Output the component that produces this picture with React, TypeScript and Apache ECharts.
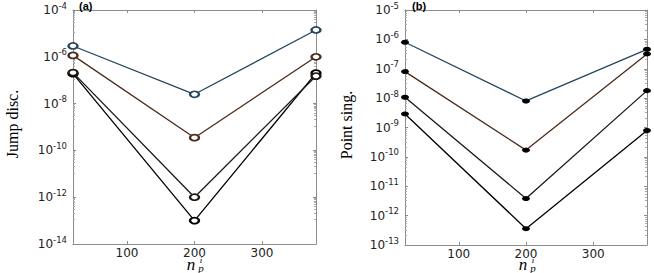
import React, { useEffect, useRef } from "react";
import * as echarts from "echarts";

const xValues = [20, 200, 380];
const xTickLabels = ["100", "200", "300"];

const jumpSeries1 = [2.9e-6, 2.5e-8, 1.4e-5];
const jumpSeries2 = [1.15e-6, 3.5e-10, 1.0e-6];
const jumpSeries3 = [2.1e-7, 1.0e-12, 1.5e-7];
const jumpSeries4 = [1.9e-7, 1.0e-13, 2.0e-7];

const pointSeries1 = [8.0e-7, 8.0e-9, 4.6e-7];
const pointSeries2 = [8.0e-8, 1.7e-10, 3.2e-7];
const pointSeries3 = [1.07e-8, 3.8e-12, 1.8e-8];
const pointSeries4 = [2.9e-9, 3.6e-13, 7.9e-10];

const jumpRange = [1e-14, 1e-4];
const pointRange = [1e-13, 1e-5];

const lineColors = ["#23465c", "#4a2c1a", "#1e1710", "#000000"];

const axisGray = "#8c8c8c";
const labelFont = "DejaVu Sans";

const labelRich = {
  b: { fontSize: 12, fontFamily: labelFont, color: "#222", lineHeight: 18 },
  s: { fontSize: 8.5, fontFamily: labelFont, color: "#222", verticalAlign: "top", lineHeight: 10 },
};

function xAxesFor(gridIndex: number) {
  const common = {
    gridIndex,
    type: "value",
    min: xValues[0],
    max: xValues[xValues.length - 1],
    splitNumber: 4,
    splitLine: { show: false },
    axisLine: { show: true, lineStyle: { color: axisGray, width: 1 } },
    axisTick: { show: true, inside: true, length: 3, lineStyle: { color: axisGray } },
  };
  return [
    {
      ...common,
      position: "bottom",
      axisLabel: {
        show: true,
        showMinLabel: false,
        showMaxLabel: false,
        margin: 3,
        fontSize: 12,
        fontFamily: labelFont,
        color: "#222",
        formatter: (v: number) => (xTickLabels.includes(String(v)) ? String(v) : ""),
      },
    },
    { ...common, position: "top", axisLabel: { show: false } },
  ];
}

function yAxesFor(gridIndex: number, range: number[], decadeStep: number, minorSplit: number) {
  const common = {
    gridIndex,
    type: "log",
    logBase: 10,
    min: range[0],
    max: range[1],
    interval: decadeStep,
    splitLine: { show: false },
    axisLine: { show: true, lineStyle: { color: axisGray, width: 1 } },
    axisTick: { show: true, inside: true, length: 3, interval: 0, lineStyle: { color: axisGray } },
    minorTick: { show: true, splitNumber: minorSplit, length: 2, lineStyle: { color: "#aaaaaa" } },
  };
  return [
    {
      ...common,
      position: "left",
      axisLabel: {
        show: true,
        interval: 0,
        margin: 6,
        formatter: (v: number) => `{b|10}{s|${Math.round(Math.log10(v))}}`,
        rich: labelRich,
      },
    },
    { ...common, position: "right", axisLabel: { show: false } },
  ];
}

function makeSeries(arrs: number[][], axisIndex: number, filled: boolean) {
  return arrs.map((arr, i) => ({
    type: "line",
    xAxisIndex: axisIndex,
    yAxisIndex: axisIndex,
    data: xValues.map((x, j) => [x, arr[j]]),
    clip: false,
    symbol: filled ? "circle" : "emptyCircle",
    symbolSize: filled ? [8, 5] : [9, 6],
    lineStyle: { color: lineColors[i], width: 1.3 },
    itemStyle: filled
      ? { color: "#000", borderWidth: 0 }
      : { color: lineColors[i], borderWidth: 1 },
    z: 10 - i,
  }));
}

function txt(text: string, x: number, y: number, font: string, align = "center") {
  return {
    type: "text",
    x,
    y,
    z: 50,
    style: {
      text,
      font,
      fill: "#000",
      textAlign: align,
      textVerticalAlign: "middle",
      align,
      verticalAlign: "middle",
    },
  };
}

function xName(cx: number) {
  return {
    type: "group",
    children: [
      txt("n", cx - 4, 264, "italic 17px 'Liberation Serif'"),
      txt("i", cx + 6, 260, "italic 9px 'Liberation Serif'"),
      txt("p", cx + 6, 268, "italic 11px 'Liberation Serif'"),
    ],
  };
}

function yName(text: string, cx: number, cy: number) {
  return {
    ...txt(text, cx, cy, "16px 'Liberation Serif'"),
    rotation: Math.PI / 2,
  };
}

function panelTag(text: string, x: number) {
  return { ...txt(text, x, 6, "bold 11px 'Liberation Sans'", "left"), z: 100 };
}

export default function App() {
  const ref = useRef<HTMLDivElement>(null);
  useEffect(() => {
    document.body.style.margin = "0";
    const chart = echarts.init(ref.current!, null, { renderer: "svg" });
    const option = {
      animation: false,
      backgroundColor: "#ffffff",
      grid: [
        { left: 73, top: 10, width: 243, height: 234 },
        { left: 405, top: 10, width: 242, height: 235 },
      ],
      xAxis: [...xAxesFor(0), ...xAxesFor(1)],
      yAxis: [...yAxesFor(0, jumpRange, 2, 10), ...yAxesFor(1, pointRange, 1, 8)],
      series: [
        ...makeSeries([jumpSeries1, jumpSeries2, jumpSeries3, jumpSeries4], 0, false),
        ...makeSeries([pointSeries1, pointSeries2, pointSeries3, pointSeries4], 2, true),
      ],
      graphic: [
        panelTag("(a)", 79),
        panelTag("(b)", 412),
        yName("Jump disc.", 12, 124),
        yName("Point sing.", 346, 125),
        xName(195),
        xName(527),
      ],
    };
    chart.setOption(option as any);
    return () => chart.dispose();
  }, []);
  return <div ref={ref} style={{ width: 654, height: 273 }} />;
}
